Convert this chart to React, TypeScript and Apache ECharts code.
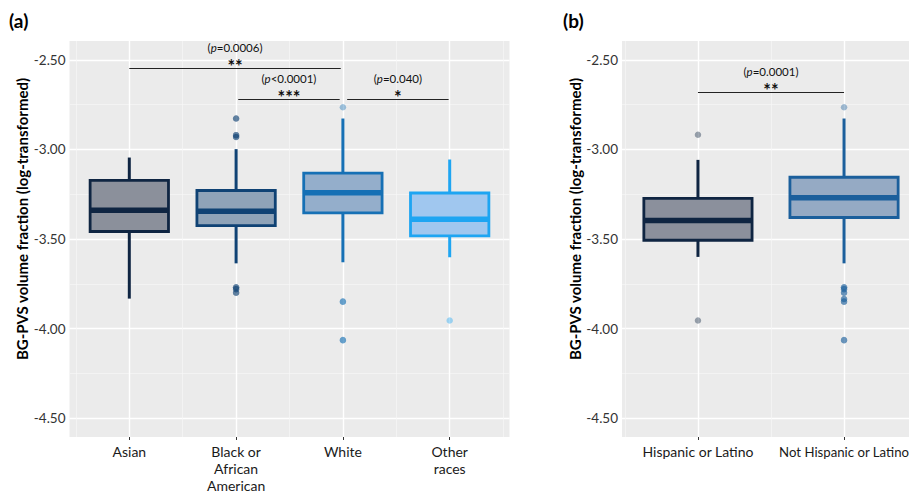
import React, { useEffect, useRef } from 'react';
import * as echarts from 'echarts';

const FONT = 'Lato, "Noto Sans", sans-serif';

// ---------- Panel (a): race ----------
const raceCategories = ['Asian', 'Black or\nAfrican\nAmerican', 'White', 'Other\nraces'];
const raceMin = [-3.833, -3.636, -3.63, -3.602];
const raceQ1 = [-3.458, -3.425, -3.354, -3.482];
const raceMedian = [-3.34, -3.345, -3.242, -3.39];
const raceQ3 = [-3.173, -3.229, -3.132, -3.243];
const raceMax = [-3.045, -2.998, -2.827, -3.056];
// [group index, value]
const raceOutliers = [
  [1, -2.827], [1, -2.827], [1, -2.92], [1, -2.92], [1, -2.93], [1, -2.93],
  [1, -3.77], [1, -3.77], [1, -3.78], [1, -3.78], [1, -3.8], [1, -3.8],
  [2, -2.764], [2, -3.85], [2, -3.85], [2, -4.065], [2, -4.065],
  [3, -3.955],
];
const raceBorder = ['#0f2542', '#0f4274', '#1670b5', '#1ea5f2'];
const raceFill = ['#8b909b', '#8fa3b8', '#94aecb', '#a0c7ef'];
const raceBracketStart = [0, 1.02, 2.04];
const raceBracketEnd = [1.98, 1.97, 2.99];
const raceBracketY = [-2.546, -2.718, -2.718];
const raceBracketP = ['=0.0006', '<0.0001', '=0.040'];
const raceBracketStars = ['**', '***', '*'];

// ---------- Panel (b): ethnicity ----------
const ethCategories = ['Hispanic or Latino', 'Not Hispanic or Latino'];
const ethMin = [-3.6, -3.636];
const ethQ1 = [-3.507, -3.38];
const ethMedian = [-3.396, -3.27];
const ethQ3 = [-3.273, -3.155];
const ethMax = [-3.058, -2.827];
const ethOutliers = [
  [0, -2.918], [0, -3.955],
  [1, -2.764], [1, -3.77], [1, -3.77], [1, -3.78], [1, -3.78], [1, -3.8], [1, -3.8],
  [1, -3.835], [1, -3.835], [1, -3.85], [1, -3.85], [1, -4.065], [1, -4.065],
];
const ethBorder = ['#0f2542', '#1b5f9c'];
const ethFill = ['#8b909c', '#95aac4'];
const ethBracketStart = [0];
const ethBracketEnd = [1];
const ethBracketY = [-2.68];
const ethBracketP = ['=0.0001'];
const ethBracketStars = ['**'];

// ---------- axes ----------
const yTicks = [-4.5, -4.0, -3.5, -3.0, -2.5];
const yMinorTicks = [-4.25, -3.75, -3.25, -2.75];
const raceXTicks = [0, 1, 2, 3];
const raceXMinor = [-0.5, 0.5, 1.5, 2.5, 3.5];
const ethXTicks = [0, 1];
const ethXMinor = [-0.5, 0.5];
const yTitle = 'BG-PVS volume fraction (log-transformed)';

const BOX_W = 0.76;

function boxData(mins: number[], q1: number[], med: number[], q3: number[], max: number[]) {
  return mins.map((m, i) => [i, m, q1[i], med[i], q3[i], max[i]]);
}

function makeRenderItem(border: string[], fill: string[]) {
  return (params: any, api: any) => {
    const i = params.dataIndex;
    const x = api.value(0);
    const pMin = api.coord([x, api.value(1)]);
    const pQ1 = api.coord([x, api.value(2)]);
    const pMed = api.coord([x, api.value(3)]);
    const pQ3 = api.coord([x, api.value(4)]);
    const pMax = api.coord([x, api.value(5)]);
    const w = api.size([BOX_W, 0])[0] - 2.8;
    const cx = pMed[0];
    return {
      type: 'group',
      children: [
        { type: 'line', shape: { x1: cx, y1: pMax[1], x2: cx, y2: pQ3[1] }, style: { stroke: border[i], lineWidth: 3 } },
        { type: 'line', shape: { x1: cx, y1: pQ1[1], x2: cx, y2: pMin[1] }, style: { stroke: border[i], lineWidth: 3 } },
        {
          type: 'rect',
          shape: { x: cx - w / 2, y: pQ3[1], width: w, height: pQ1[1] - pQ3[1] },
          style: { fill: fill[i], stroke: border[i], lineWidth: 2.8 },
        },
        { type: 'line', shape: { x1: cx - w / 2, y1: pMed[1], x2: cx + w / 2, y2: pMed[1] }, style: { stroke: border[i], lineWidth: 5.5 } },
      ],
    };
  };
}

function gridMarkLine(xMajor: number[], xMinor: number[]) {
  return {
    z: 1,
    silent: true,
    symbol: ['none', 'none'],
    label: { show: false },
    emphasis: { disabled: true },
    lineStyle: { color: '#ffffff', type: 'solid', width: 1.4, opacity: 1 },
    data: [
      ...yTicks.map((v) => ({ yAxis: v })),
      ...yMinorTicks.map((v) => ({ yAxis: v, lineStyle: { width: 0.7, color: '#f7f7f7' } })),
      ...xMajor.map((v) => ({ xAxis: v })),
      ...xMinor.map((v) => ({ xAxis: v, lineStyle: { width: 0.7, color: '#f7f7f7' } })),
    ],
  };
}

function bracketMarkLine(starts: number[], ends: number[], ys: number[], ps: string[], stars: string[]) {
  return {
    z: 6,
    silent: true,
    symbol: ['none', 'none'],
    emphasis: { disabled: true },
    lineStyle: { color: '#222222', type: 'solid', width: 1, opacity: 1 },
    label: {
      show: true,
      position: 'middle',
      distance: -8.5,
      color: '#111',
      fontFamily: FONT,
      formatter: (p: any) => `{n|(}{i|p}{n|${ps[p.dataIndex]})}\n{s|${stars[p.dataIndex]}}`,
      rich: {
        n: { fontSize: 11.5, lineHeight: 14, fontFamily: FONT, color: '#111' },
        i: { fontSize: 11.5, lineHeight: 14, fontFamily: FONT, fontStyle: 'italic', color: '#111' },
        s: { fontSize: 18, lineHeight: 22, fontFamily: FONT, fontWeight: 'bold', color: '#111' },
      },
    },
    data: starts.map((s, i) => [{ coord: [s, ys[i]] }, { coord: [ends[i], ys[i]] }]),
  };
}

function outlierData(list: number[][], border: string[]) {
  return list.map(([g, v]) => ({ value: [g, v], itemStyle: { color: border[g], opacity: 0.4 } }));
}

function xAxisFor(gridIndex: number, min: number, max: number, ticks: number[], cats: string[], lastSmall: boolean) {
  return {
    gridIndex,
    type: 'value',
    min,
    max,
    axisLine: { show: false },
    splitLine: { show: false },
    axisTick: { show: true, customValues: ticks, length: 3, lineStyle: { color: '#333', width: 1 } },
    axisLabel: {
      customValues: ticks,
      formatter: (v: number) => {
        const idx = Math.round(v);
        return lastSmall && idx === cats.length - 1 ? `{sm|${cats[idx]}}` : cats[idx];
      },
      fontSize: 14,
      lineHeight: 17,
      color: '#1a1a1a',
      margin: 6,
      fontFamily: FONT,
      rich: { sm: { fontSize: 13.2, lineHeight: 17, color: '#1a1a1a', fontFamily: FONT } },
    },
  };
}

function yAxisFor(gridIndex: number) {
  return {
    gridIndex,
    type: 'value',
    min: -4.606,
    max: -2.394,
    axisLine: { show: false },
    splitLine: { show: false },
    axisTick: { show: true, customValues: yTicks, length: 3, lineStyle: { color: '#333', width: 1 } },
    axisLabel: {
      customValues: yTicks,
      formatter: (v: number) => v.toFixed(2),
      fontSize: 13.5,
      color: '#333',
      margin: 4,
      fontFamily: FONT,
    },
    name: yTitle,
    nameLocation: 'middle',
    nameGap: 40,
    nameTextStyle: { fontSize: 15, fontWeight: 'bold', color: '#000', fontFamily: FONT, padding: [0, 0, 0, 40] },
  };
}

export default function App() {
  const ref = useRef<HTMLDivElement>(null);
  useEffect(() => {
    if (!ref.current) return;
    const chart = echarts.init(ref.current, undefined, { renderer: 'svg' });
    chart.setOption({
      animation: false,
      backgroundColor: '#ffffff',
      title: [
        { text: '(a)', left: 4, top: 6, textStyle: { fontSize: 19, fontWeight: 'bold', color: '#000', fontFamily: FONT } },
        { text: '(b)', left: 558, top: 6, textStyle: { fontSize: 19, fontWeight: 'bold', color: '#000', fontFamily: FONT } },
      ],
      grid: [
        { left: 69.5, top: 41, width: 440, height: 396, show: true, backgroundColor: '#EBEBEB', borderWidth: 0, containLabel: false, outerBoundsMode: 'none' },
        { left: 622, top: 41, width: 298, height: 396, show: true, backgroundColor: '#EBEBEB', borderWidth: 0, containLabel: false, outerBoundsMode: 'none' },
      ],
      xAxis: [
        xAxisFor(0, -0.56, 3.56, raceXTicks, raceCategories, false),
        xAxisFor(1, -0.52, 1.52, ethXTicks, ethCategories, true),
      ],
      yAxis: [yAxisFor(0), yAxisFor(1)],
      series: [
        {
          type: 'custom',
          xAxisIndex: 0,
          yAxisIndex: 0,
          z: 3,
          encode: { x: 0, y: [1, 2, 3, 4, 5] },
          data: boxData(raceMin, raceQ1, raceMedian, raceQ3, raceMax),
          renderItem: makeRenderItem(raceBorder, raceFill),
          markLine: gridMarkLine(raceXTicks, raceXMinor),
        },
        {
          type: 'scatter',
          xAxisIndex: 0,
          yAxisIndex: 0,
          z: 4,
          symbolSize: 6.5,
          data: outlierData(raceOutliers, raceBorder),
          markLine: bracketMarkLine(raceBracketStart, raceBracketEnd, raceBracketY, raceBracketP, raceBracketStars),
        },
        {
          type: 'custom',
          xAxisIndex: 1,
          yAxisIndex: 1,
          z: 3,
          encode: { x: 0, y: [1, 2, 3, 4, 5] },
          data: boxData(ethMin, ethQ1, ethMedian, ethQ3, ethMax),
          renderItem: makeRenderItem(ethBorder, ethFill),
          markLine: gridMarkLine(ethXTicks, ethXMinor),
        },
        {
          type: 'scatter',
          xAxisIndex: 1,
          yAxisIndex: 1,
          z: 4,
          symbolSize: 6.5,
          data: outlierData(ethOutliers, ethBorder),
          markLine: bracketMarkLine(ethBracketStart, ethBracketEnd, ethBracketY, ethBracketP, ethBracketStars),
        },
      ],
    });
    return () => chart.dispose();
  }, []);
  return <div ref={ref} style={{ position: 'absolute', left: 0, top: 0, width: 909, height: 494 }} />;
}
